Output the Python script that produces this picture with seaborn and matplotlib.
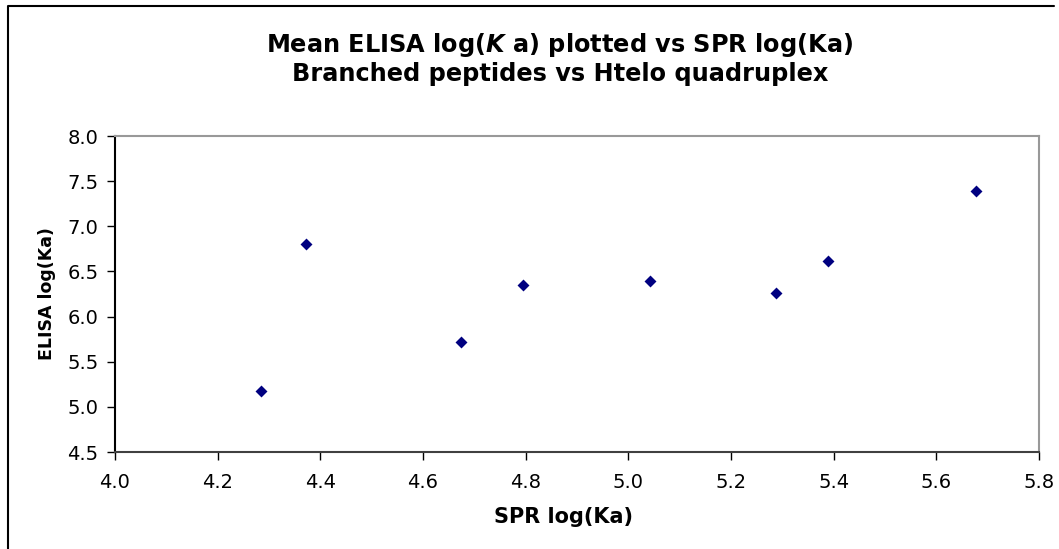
import matplotlib.pyplot as plt
import matplotlib.lines as mlines
import pandas as pd
import seaborn as sns

# Values
spr_logka = [4.285, 4.372, 4.674, 4.794, 5.042, 5.288, 5.388, 5.678]
elisa_logka = [5.18, 6.80, 5.72, 6.35, 6.39, 6.26, 6.61, 7.39]
x_ticks = [4.0, 4.2, 4.4, 4.6, 4.8, 5.0, 5.2, 5.4, 5.6, 5.8]
y_ticks = [4.5, 5.0, 5.5, 6.0, 6.5, 7.0, 7.5, 8.0]

df = pd.DataFrame({"spr": spr_logka, "elisa": elisa_logka})

sns.set_style("white")
plt.rcParams["font.family"] = ["DejaVu Sans"]
plt.rcParams["text.color"] = "black"
plt.rcParams["axes.labelcolor"] = "black"
plt.rcParams["xtick.color"] = "black"
plt.rcParams["ytick.color"] = "black"
plt.rcParams["mathtext.fontset"] = "custom"
plt.rcParams["mathtext.it"] = "DejaVu Sans:bold:italic"
plt.rcParams["mathtext.rm"] = "DejaVu Sans:bold"

fig = plt.figure(figsize=(10.59, 5.49), dpi=100)
ax = fig.add_axes([115 / 1059, 1 - 452 / 549, (1039 - 115) / 1059, (452 - 136) / 549])

sns.scatterplot(data=df, x="spr", y="elisa", marker="D", s=37, color="#000080",
                linewidth=0, ax=ax)

ax.set_xlim(4.0, 5.8)
ax.set_ylim(4.5, 8.0)
ax.set_xticks(x_ticks)
ax.set_yticks(y_ticks)
ax.set_xticklabels([f"{v:.1f}" for v in x_ticks])
ax.set_yticklabels([f"{v:.1f}" for v in y_ticks])
ax.tick_params(axis="both", direction="out", length=6, width=1,
               labelsize=14, left=True, bottom=True)
ax.tick_params(axis="x", pad=9, colors="black")
ax.tick_params(axis="y", pad=6, colors="black")

for side in ["top", "right"]:
    ax.spines[side].set_color("#999999")
    ax.spines[side].set_linewidth(1.5)
ax.spines["left"].set_color("#000000")
ax.spines["bottom"].set_color("#404040")
for side in ["left", "bottom"]:
    ax.spines[side].set_linewidth(1.5)

ax.set_xlabel("SPR log(Ka)", fontsize=15, fontweight="bold")
ax.set_ylabel("ELISA log(Ka)", fontsize=12.5, fontweight="bold")
ax.xaxis.set_label_coords((563 - 115) / (1039 - 115), -(517 - 452) / (452 - 136))
ax.yaxis.set_label_coords(-(115 - 47) / (1039 - 115), 0.5)
ax.xaxis.label.set_va("center")
ax.yaxis.label.set_va("center")

fig.text(560 / 1059, 1 - 45 / 549, "Mean ELISA log($K$ a) plotted vs SPR log(Ka)",
         ha="center", va="center", fontsize=17.3, fontweight="bold")
fig.text(560 / 1059, 1 - 74 / 549, "Branched peptides vs Htelo quadruplex",
         ha="center", va="center", fontsize=17.3, fontweight="bold")

# outer chart frame (left and top edges visible)
fig.add_artist(mlines.Line2D([8 / 1059, 8 / 1059, 1054 / 1059],
                             [0, 1 - 6 / 549, 1 - 6 / 549],
                             transform=fig.transFigure, color="black", linewidth=1.5))

fig.savefig("out.png", dpi=100)
